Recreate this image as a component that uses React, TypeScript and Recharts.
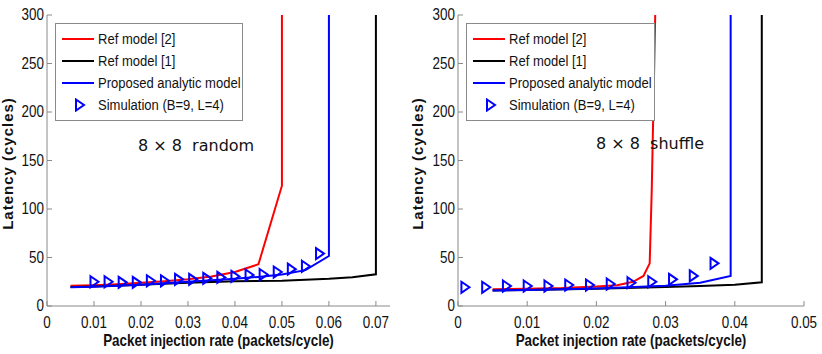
import React from 'react';
import {
  ComposedChart,
  Line,
  Scatter,
  XAxis,
  YAxis,
  Legend
} from 'recharts';

// ---- data: 8x8 random ----
const randomRef2 = [
  { x: 0.005, y: 21 }, { x: 0.01, y: 21.5 }, { x: 0.015, y: 22.5 }, { x: 0.02, y: 24 },
  { x: 0.025, y: 25.5 }, { x: 0.03, y: 27.5 }, { x: 0.035, y: 30.5 }, { x: 0.04, y: 35 },
  { x: 0.045, y: 43 }, { x: 0.05, y: 124 }, { x: 0.05, y: 300 }
];
const randomRef1 = [
  { x: 0.005, y: 19.5 }, { x: 0.01, y: 20 }, { x: 0.02, y: 22 }, { x: 0.03, y: 24 },
  { x: 0.04, y: 25.5 }, { x: 0.05, y: 26 }, { x: 0.06, y: 28 }, { x: 0.065, y: 29.6 },
  { x: 0.07, y: 32.7 }, { x: 0.07, y: 300 }
];
const randomProposed = [
  { x: 0.005, y: 19.3 }, { x: 0.01, y: 19.8 }, { x: 0.02, y: 22 }, { x: 0.03, y: 25 },
  { x: 0.04, y: 28 }, { x: 0.045, y: 30 }, { x: 0.05, y: 32.5 }, { x: 0.055, y: 37 },
  { x: 0.06, y: 51.5 }, { x: 0.06, y: 300 }
];
const randomSim = [
  { x: 0.01, y: 25 }, { x: 0.013, y: 25 }, { x: 0.016, y: 24.4 }, { x: 0.019, y: 24.4 },
  { x: 0.022, y: 26 }, { x: 0.025, y: 26 }, { x: 0.028, y: 27.5 }, { x: 0.031, y: 27.5 },
  { x: 0.034, y: 28.5 }, { x: 0.037, y: 29.5 }, { x: 0.04, y: 30.5 }, { x: 0.043, y: 32 },
  { x: 0.046, y: 32.5 }, { x: 0.049, y: 35 }, { x: 0.052, y: 38 }, { x: 0.055, y: 41 },
  { x: 0.058, y: 54 }
];

// ---- data: 8x8 shuffle ----
const shuffleRef2 = [
  { x: 0.005, y: 17.2 }, { x: 0.01, y: 17.8 }, { x: 0.015, y: 18.5 }, { x: 0.02, y: 20 },
  { x: 0.023, y: 21.5 }, { x: 0.0253, y: 25 }, { x: 0.0268, y: 31 }, { x: 0.0277, y: 44 },
  { x: 0.028, y: 120 }, { x: 0.0285, y: 300 }
];
const shuffleRef1 = [
  { x: 0.005, y: 16 }, { x: 0.01, y: 16.5 }, { x: 0.02, y: 17.8 }, { x: 0.03, y: 19.5 },
  { x: 0.035, y: 20.5 }, { x: 0.04, y: 22 }, { x: 0.0439, y: 24.4 }, { x: 0.0439, y: 300 }
];
const shuffleProposed = [
  { x: 0.005, y: 16 }, { x: 0.01, y: 16.5 }, { x: 0.02, y: 18 }, { x: 0.03, y: 21 },
  { x: 0.035, y: 24 }, { x: 0.0394, y: 31 }, { x: 0.0394, y: 300 }
];
const shuffleSim = [
  { x: 0.001, y: 19.3 }, { x: 0.004, y: 19.3 }, { x: 0.007, y: 20.6 }, { x: 0.01, y: 20.6 },
  { x: 0.013, y: 20.6 }, { x: 0.016, y: 21.6 }, { x: 0.019, y: 21.6 }, { x: 0.022, y: 22.7 },
  { x: 0.025, y: 24 }, { x: 0.028, y: 25 }, { x: 0.031, y: 27.5 }, { x: 0.034, y: 31 },
  { x: 0.037, y: 44 }
];

const yTicks = [0, 50, 100, 150, 200, 250, 300];
const randomXTicks = [0, 0.01, 0.02, 0.03, 0.04, 0.05, 0.06, 0.07];
const shuffleXTicks = [0, 0.01, 0.02, 0.03, 0.04, 0.05];

const legendItems = [
  { name: 'Ref model [2]', color: '#ff0000', kind: 'line' },
  { name: 'Ref model [1]', color: '#000000', kind: 'line' },
  { name: 'Proposed analytic model', color: '#0000ff', kind: 'line' },
  { name: 'Simulation (B=9, L=4)', color: '#0000ff', kind: 'marker' }
];

const SANS = "'Liberation Sans', Arial, sans-serif";
const BOX = '#8a8a8a';
const SQUEEZE = 0.84; // the original uses a narrow face

const Triangle = (props: any) => {
  const { cx, cy } = props;
  if (cx == null || cy == null) return null;
  return (
    <path
      d={`M${cx - 3.5},${cy - 5.5} L${cx + 4.5},${cy} L${cx - 3.5},${cy + 5.5} Z`}
      fill="none"
      stroke="#0000ff"
      strokeWidth={2}
    />
  );
};

// narrow-looking tick label
const NarrowTick = (props: any) => {
  const { x, y, payload, textAnchor, orientation } = props;
  const label = payload.value === 0 ? '0' : String(payload.value);
  const dy = orientation === 'bottom' ? 17 : 5;
  return (
    <text
      transform={`translate(${x},${y}) scale(${SQUEEZE},1)`}
      textAnchor={textAnchor}
      dy={dy}
      fontFamily={SANS}
      fontSize={16}
      fill="#111"
    >
      {label}
    </text>
  );
};

const LegendBox = () => (
  <div
    style={{
      border: `1px solid ${BOX}`,
      background: '#fff',
      padding: '4px 0 4px 0',
      fontFamily: SANS,
      fontSize: 15.5,
      color: '#111',
      textAlign: 'left'
    }}
  >
    {legendItems.map((it) => (
      <div key={it.name} style={{ display: 'flex', alignItems: 'center', height: 22 }}>
        <svg width={36} height={14} style={{ marginLeft: 6, flex: 'none' }}>
          {it.kind === 'line' ? (
            <line x1={0} y1={7} x2={32} y2={7} stroke={it.color} strokeWidth={2} />
          ) : (
            <path d="M14,1.5 L22,7 L14,12.5 Z" fill="none" stroke={it.color} strokeWidth={2} />
          )}
        </svg>
        <span
          style={{
            whiteSpace: 'nowrap',
            display: 'inline-block',
            transform: `scaleX(${SQUEEZE})`,
            transformOrigin: 'left center'
          }}
        >
          {it.name}
        </span>
      </div>
    ))}
  </div>
);

type PanelProps = {
  width: number;
  left: number;
  right: number;
  xMax: number;
  xTicks: number[];
  ref2: any[];
  ref1: any[];
  proposed: any[];
  sim: any[];
  legendLeft: number;
  legendWidth: number;
  note: string;
  noteLeft: number;
  noteTop: number;
};

const Panel = (p: PanelProps) => {
  return (
    <div style={{ position: 'relative', width: p.width, height: 354 }}>
      <ComposedChart
        width={p.width}
        height={354}
        margin={{ top: 15, right: p.right, bottom: 0, left: 0 }}
      >
        <XAxis
          xAxisId="b"
          type="number"
          dataKey="x"
          domain={[0, p.xMax]}
          ticks={p.xTicks}
          allowDataOverflow
          height={48}
          stroke={BOX}
          tickSize={-5}
          tickMargin={10}
          tick={<NarrowTick orientation="bottom" />}
          label={{
            content: (props: any) => {
              const vb = props.viewBox;
              return (
                <text
                  transform={`translate(${vb.x + vb.width / 2},${vb.y + 40}) scale(${SQUEEZE},1)`}
                  textAnchor="middle"
                  fontFamily={SANS}
                  fontWeight="bold"
                  fontSize={16}
                  fill="#111"
                >
                  Packet injection rate (packets/cycle)
                </text>
              );
            }
          }}
        />
        <XAxis
          xAxisId="t"
          orientation="top"
          type="number"
          domain={[0, p.xMax]}
          ticks={p.xTicks}
          allowDataOverflow
          height={0}
          stroke={BOX}
          tickSize={-5}
          tick={false}
        />
        <YAxis
          yAxisId="l"
          type="number"
          dataKey="y"
          domain={[0, 300]}
          ticks={yTicks}
          allowDataOverflow
          width={p.left}
          stroke={BOX}
          tickSize={-5}
          tickMargin={8}
          tick={<NarrowTick orientation="left" />}
          label={{
            content: (props: any) => {
              const vb = props.viewBox;
              const cx = vb.x + 13;
              const cy = vb.y + vb.height / 2 + 3;
              return (
                <text
                  transform={`translate(${cx},${cy}) rotate(-90)`}
                  textAnchor="middle"
                  fontFamily={SANS}
                  fontWeight="bold"
                  fontSize={15}
                  letterSpacing={1}
                  fill="#111"
                >
                  Latency (cycles)
                </text>
              );
            }
          }}
        />
        <YAxis
          yAxisId="r"
          orientation="right"
          type="number"
          domain={[0, 300]}
          ticks={yTicks}
          allowDataOverflow
          width={0}
          stroke={BOX}
          tickSize={-5}
          tick={false}
        />
        <Legend
          layout="vertical"
          align="center"
          verticalAlign="middle"
          content={() => <LegendBox />}
          wrapperStyle={{ left: p.legendLeft, top: 23, width: p.legendWidth, textAlign: 'left' }}
        />
        <Line
          xAxisId="b"
          yAxisId="l"
          data={p.ref2}
          dataKey="y"
          type="linear"
          stroke="#ff0000"
          strokeWidth={2}
          dot={false}
          isAnimationActive={false}
          legendType="none"
        />
        <Line
          xAxisId="b"
          yAxisId="l"
          data={p.ref1}
          dataKey="y"
          type="linear"
          stroke="#000000"
          strokeWidth={2}
          dot={false}
          isAnimationActive={false}
          legendType="none"
        />
        <Line
          xAxisId="b"
          yAxisId="l"
          data={p.proposed}
          dataKey="y"
          type="linear"
          stroke="#0000ff"
          strokeWidth={2}
          dot={false}
          isAnimationActive={false}
          legendType="none"
        />
        <Scatter
          xAxisId="b"
          yAxisId="l"
          data={p.sim}
          dataKey="y"
          shape={<Triangle />}
          isAnimationActive={false}
          legendType="none"
        />
      </ComposedChart>
      <div
        style={{
          position: 'absolute',
          left: p.noteLeft,
          top: p.noteTop,
          fontFamily: "'DejaVu Sans', sans-serif",
          fontSize: 16,
          color: '#111',
          whiteSpace: 'pre'
        }}
      >
        {p.note}
      </div>
    </div>
  );
};

export default function App() {
  return (
    <div style={{ position: 'absolute', left: 0, top: 0, width: 822, height: 354, display: 'flex', background: '#fff' }}>
      <Panel
        width={410}
        left={47}
        right={20}
        xMax={0.073}
        xTicks={randomXTicks}
        ref2={randomRef2}
        ref1={randomRef1}
        proposed={randomProposed}
        sim={randomSim}
        legendLeft={55}
        legendWidth={188}
        note={'8 × 8  random'}
        noteLeft={138}
        noteTop={136}
      />
      <Panel
        width={412}
        left={48}
        right={18}
        xMax={0.05}
        xTicks={shuffleXTicks}
        ref2={shuffleRef2}
        ref1={shuffleRef1}
        proposed={shuffleProposed}
        sim={shuffleSim}
        legendLeft={56}
        legendWidth={189}
        note={'8 × 8  shuffle'}
        noteLeft={186}
        noteTop={134}
      />
    </div>
  );
}
